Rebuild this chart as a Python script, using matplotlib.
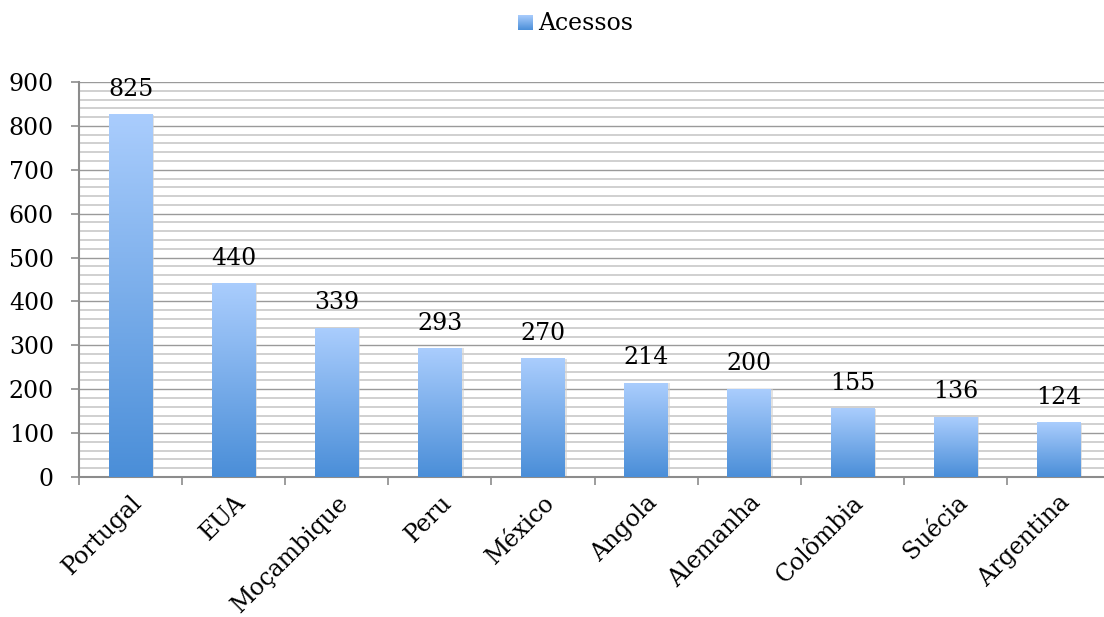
import numpy as np
import matplotlib.pyplot as plt
from matplotlib.ticker import MultipleLocator

# dados
paises = ["Portugal", "EUA", "Moçambique", "Peru", "México",
          "Angola", "Alemanha", "Colômbia", "Suécia", "Argentina"]
acessos = [825, 440, 339, 293, 270, 214, 200, 155, 136, 124]
y_ticks = [0, 100, 200, 300, 400, 500, 600, 700, 800, 900]

plt.rcParams['font.family'] = ['DejaVu Serif']
fs = 17

top_col = np.array([0xAA, 0xCD, 0xFD]) / 255.0
bot_col = np.array([0x4A, 0x8E, 0xD8]) / 255.0
# gradiente vertical: linha 0 = topo (claro), ultima = base (escuro)
t = np.linspace(0, 1, 256)[:, None]
grad = (top_col * (1 - t) + bot_col * t)[:, None, :]

fig = plt.figure(figsize=(11.04, 6.17), dpi=100)
ax = fig.add_axes([79 / 1104, 140 / 617, 1031 / 1104, 395 / 617])

x = np.arange(len(paises))
w = 0.42
bars = ax.bar(x, acessos, width=w, color='none', zorder=3)
for b in bars:
    x0 = b.get_x()
    h = b.get_height()
    # sombra leve
    ax.bar(x0 + w / 2 + 0.02, h, width=w, color='#d0d0d0', alpha=0.6, zorder=2)
    ax.imshow(grad, extent=[x0, x0 + w, 0, h], aspect='auto', zorder=3,
              interpolation='bilinear')
    ax.annotate(str(int(h)), (x0 + w / 2, h), xytext=(0, 10),
                textcoords='offset points', ha='center', va='bottom',
                fontsize=fs, color='black')

ax.set_xlim(-0.5, len(paises) - 0.5)
ax.set_ylim(0, 900)
ax.set_yticks(y_ticks)
ax.yaxis.set_minor_locator(MultipleLocator(20))
ax.grid(which='major', axis='y', color='#9a9a9a', lw=1.0, zorder=0)
ax.grid(which='minor', axis='y', color='#c8c8c8', lw=1.2, zorder=0)

ax.set_xticks(np.arange(len(paises) + 1) - 0.5)
ax.set_xticklabels([])
ax.set_xticks(x, minor=True)
ax.set_xticklabels(paises, minor=True, rotation=45, ha='right',
                   rotation_mode='anchor', fontsize=fs)
ax.tick_params(axis='x', which='minor', length=0, pad=10)
ax.tick_params(axis='x', which='major', length=6, color='#8c8c8c', width=1.2)
ax.tick_params(axis='y', which='major', length=6, color='#8c8c8c', width=1.2,
               labelsize=fs, pad=12)
ax.tick_params(axis='y', which='minor', length=0)

for s in ['top', 'right']:
    ax.spines[s].set_visible(False)
for s in ['left', 'bottom']:
    ax.spines[s].set_color('#8c8c8c')
    ax.spines[s].set_linewidth(1.5)

# legenda
lax = fig.add_axes([518 / 1104, 1 - 30 / 617, 15 / 1104, 15 / 617])
lax.imshow(grad, aspect='auto', extent=[0, 1, 0, 1])
lax.axis('off')
fig.text(538 / 1104, 1 - 23 / 617, "Acessos", fontsize=fs, va='center', ha='left')

fig.savefig("out.png", dpi=100)
